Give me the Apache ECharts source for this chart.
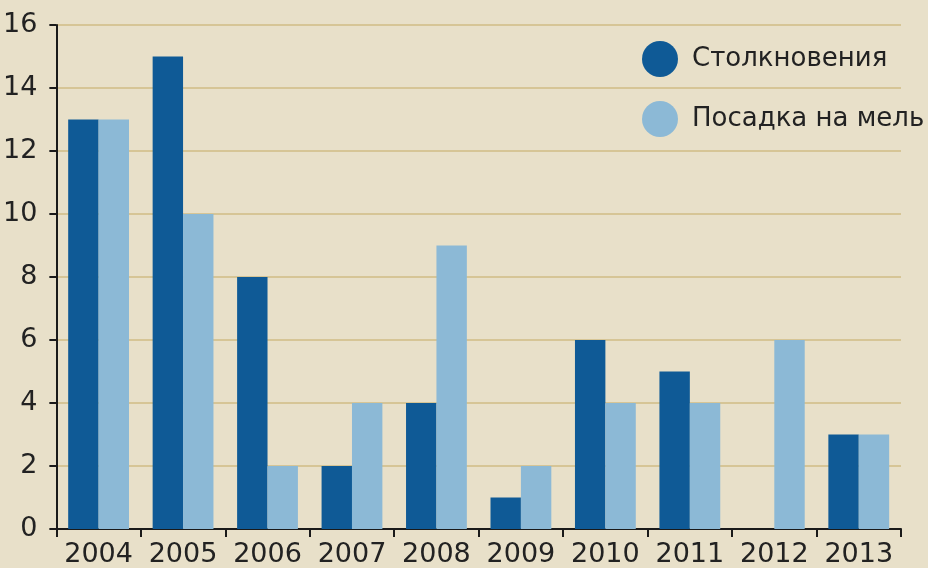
<!DOCTYPE html>
<html><head><meta charset="utf-8">
<script src="https://cdn.jsdelivr.net/npm/echarts@6/dist/echarts.min.js"></script>
<style>html,body{margin:0;padding:0;background:#e8e0c9;}#c{width:928px;height:568px;}</style>
</head><body><div id="c"></div>
<script>
const years = ['2004','2005','2006','2007','2008','2009','2010','2011','2012','2013'];
const collisions = [13,15,8,2,4,1,6,5,null,3];
const groundings = [13,10,2,4,9,2,4,4,6,3];
const seriesNames = ['Столкновения','Посадка на мель'];
const yTicks = {min:0,max:16,interval:2};

const chart = echarts.init(document.getElementById('c'));
const font = '"DejaVu Sans", sans-serif';
chart.setOption({
  backgroundColor:'#e8e0c9',
  animation:false,
  grid:{left:56,right:27,top:25,bottom:38,containLabel:false},
  legend:{
    orient:'vertical', left:642, top:41, icon:'circle', itemWidth:36, itemHeight:36, itemGap:24,
    padding:0,
    textStyle:{fontFamily:font,fontSize:26,color:'#222',padding:[2,0,0,9]},
    data:seriesNames
  },
  xAxis:{type:'category',data:years,
    axisLine:{lineStyle:{color:'#1a1a1a',width:2}},
    axisTick:{show:true,interval:0,length:8,lineStyle:{color:'#1a1a1a',width:2}},
    axisLabel:{interval:0,fontFamily:font,fontSize:27,color:'#222',margin:12}
  },
  yAxis:{type:'value',min:yTicks.min,max:yTicks.max,interval:yTicks.interval,
    axisLine:{show:true,lineStyle:{color:'#1a1a1a',width:2}},
    axisTick:{show:true,length:7,lineStyle:{color:'#1a1a1a',width:2}},
    axisLabel:{fontFamily:font,fontSize:27,color:'#222',margin:19,padding:[3,0,0,0]},
    splitLine:{lineStyle:{color:'#d6c596',width:2}}
  },
  series:[
    {name:seriesNames[0],type:'bar',data:collisions,itemStyle:{color:'#0f5a96'},barGap:'0%',barCategoryGap:'28%'},
    {name:seriesNames[1],type:'bar',data:groundings,itemStyle:{color:'#8cb9d6'},barGap:'0%',barCategoryGap:'28%'}
  ]
});
</script></body></html>
